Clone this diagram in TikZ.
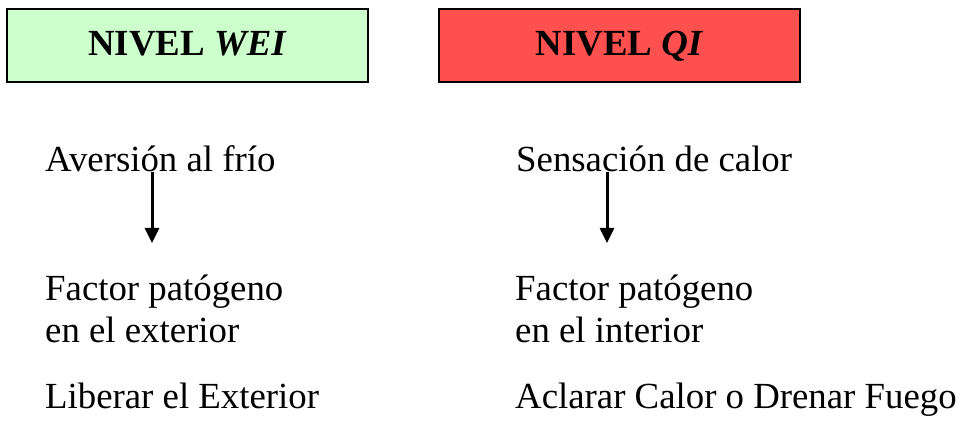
\documentclass[tikz,border=0pt]{standalone}
\usepackage{fontspec}
\setmainfont{Liberation Serif}
\usepackage{tikz}
\usetikzlibrary{arrows.meta, positioning, calc}
\usepackage{xcolor}
\definecolor{weigreen}{RGB}{204, 255, 204}
\definecolor{qired}{RGB}{255, 80, 80}
\tikzset{
    nivel/.style={rectangle, minimum width=361pt, minimum height=73pt, inner sep=0pt, text height=20pt, text depth=0pt, align=center, draw=black, line width=1.2pt, font=\fontsize{36.8}{42.3}\selectfont\bfseries},
    texto/.style={anchor=base west, inner sep=0pt, align=left, font=\fontsize{36.8}{42.3}\selectfont},
    flecha/.style={line width=3pt, -{Triangle[width=14pt, length=15pt]}}
}
\begin{document}
\begin{tikzpicture}[x=1pt, y=1pt]
        \useasboundingbox (0,0) rectangle (968,435);

        % Level boxes
        \node[nivel, fill=weigreen] (wei) at (187.5, 389.5) {NIVEL \textit{WEI}};
        \node[nivel, fill=qired] (qi) at (619.5, 389.5) {NIVEL \textit{QI}};

        % Symptoms
        \node[texto] (sint1) at (45, 263) {Aversión al frío};
        \node[texto] (sint2) at (516, 263) {Sensación de calor};

        % Pathogenic factor (base = last line)
        \node[texto] (fac1) at (45, 92) {Factor patógeno\\en el exterior};
        \node[texto] (fac2) at (515, 92) {Factor patógeno\\en el interior};

        % Treatment
        \node[texto] (trat1) at (45, 26) {Liberar el Exterior};
        \node[texto] (trat2) at (515, 26) {Aclarar Calor o Drenar Fuego};

        \draw[flecha] ([xshift=107pt]sint1.base west) -- ++(0,-71);
        \draw[flecha] ([xshift=91pt]sint2.base west) -- ++(0,-71);
    \end{tikzpicture}
\end{document}
